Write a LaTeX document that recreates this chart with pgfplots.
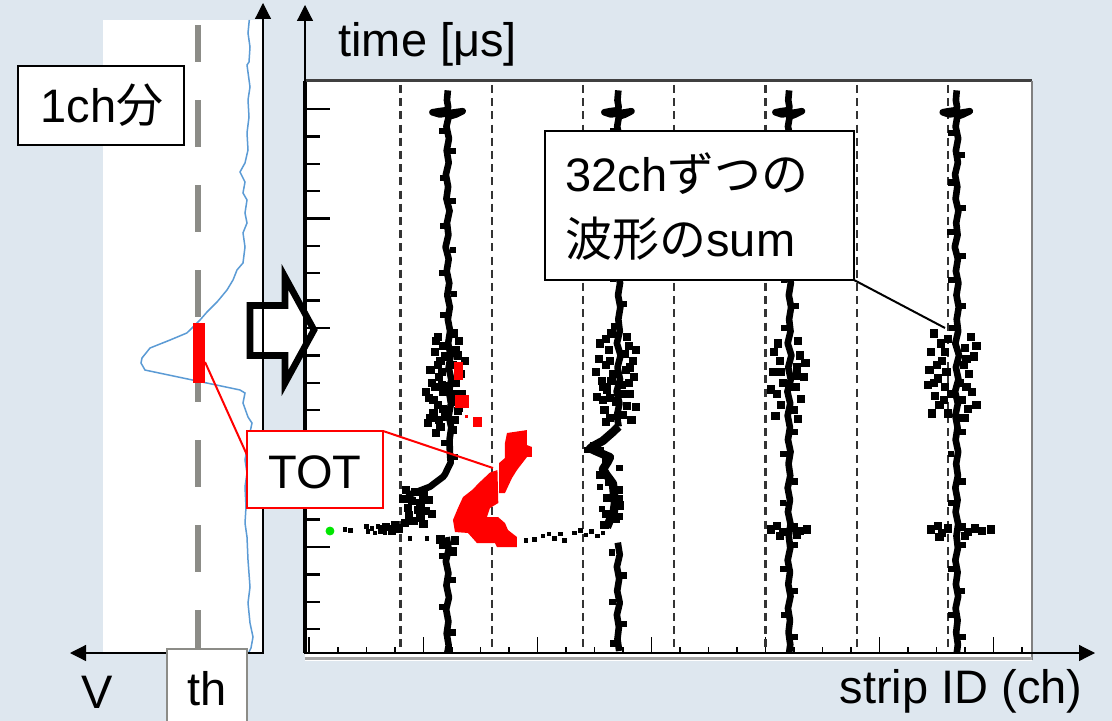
\documentclass[border=0pt]{standalone}
\usepackage{fontspec}
\setmainfont{Liberation Sans}
\newfontfamily\jp{Noto Sans CJK JP}
\usepackage{pgfplots}
\pgfplotsset{compat=1.18}
\usetikzlibrary{arrows.meta}
\definecolor{bg}{RGB}{222,231,239}
\definecolor{wave}{RGB}{91,155,213}
\definecolor{thgray}{RGB}{140,140,135}
\definecolor{bright}{RGB}{0,230,0}
\newcommand\fs{\fontsize{23.5pt}{28pt}\selectfont}
\pgfplotsset{
  trace/.style={black, line width=3.3pt, line join=round},
  grp/.style={black!80, line width=1.1pt, dash pattern=on 4pt off 2.6pt},
  fringe/.style={only marks, mark=square*, mark size=1.8pt, black},
  bump/.style={only marks, mark=square*, mark size=1.3pt, black},
}
\begin{document}
\begin{tikzpicture}
\useasboundingbox (0pt,0pt) rectangle (556pt,-360.5pt);
\begin{scope}[x=0.5pt,y=-0.5pt]
\fill[bg] (0,0) rectangle (1112,721);
\fill[white] (103,20) rectangle (262,652);
\fill[white] (305,81) rectangle (1032,661);
\end{scope}

% ---------- left panel: one channel waveform ----------
\begin{axis}[at={(51.5pt,-326pt)}, anchor=south west, scale only axis,
  width=80pt, height=316pt, x dir=reverse,
  xmin=-0.13, xmax=1.47, ymin=0.0411, ymax=5.8128, hide axis]
\addplot[thgray, line width=3pt, dash pattern=on 23.5pt off 19pt, dash phase=5pt]
  coordinates {(0.52,5.767)(0.52,0.059)};
\addplot[wave, line width=0.75pt] coordinates {
(0.007,5.813)(0.02,5.694)(0.00,5.566)(0.01,5.429)(0.03,5.402)(0.00,5.201)(0.02,5.082)
(0.01,4.927)(0.03,4.781)(0.02,4.626)(0.05,4.507)(0.10,4.425)(0.05,4.333)(0.07,4.233)
(0.03,4.169)(0.05,4.050)(0.03,3.959)(0.07,3.868)(0.05,3.740)(0.07,3.594)(0.13,3.530)
(0.17,3.438)(0.23,3.347)(0.33,3.237)(0.43,3.146)(0.50,3.073)(0.63,2.955)(0.80,2.890)
(1.00,2.817)(1.08,2.726)(1.09,2.680)(1.05,2.616)(0.10,2.434)(0.05,2.406)(0.07,2.315)
(0.02,2.187)(-0.02,2.132)(0.01,2.005)(0.05,1.795)(0.03,1.676)(0.05,1.548)(0.04,1.365)
(0.05,1.219)(0.03,1.091)(0.02,0.882)(0.00,0.635)(0.02,0.489)(0.00,0.306)(-0.03,0.178)
(-0.01,0.078)(0.01,0.041)};
\addplot[fill=red, draw=none] coordinates {(0.45,2.498)(0.57,2.498)(0.57,3.046)(0.45,3.046)} -- cycle;
\end{axis}

% block arrow
\begin{scope}[x=0.5pt,y=-0.5pt]
\draw[line width=3.3pt, fill=white, miter limit=10] (250,305.5) -- (285,305.5) -- (285,277) -- (314,330) -- (285,383) -- (285,355.5) -- (250,355.5) -- cycle;
\end{scope}

% ---------- right panel: strip ID vs time ----------
\begin{axis}[at={(152.5pt,-326.5pt)}, anchor=south west, scale only axis,
  width=363.5pt, height=286pt,
  xmin=-1.5, xmax=253.5, ymin=0.032, ymax=5.2557,
  clip marker paths=true,
  axis x line*=bottom, axis y line=none, x axis line style={draw=none},
  xtick={0,40,...,240},
  minor xtick={10,20,30,50,60,70,90,100,110,130,140,150,170,180,190,210,220,230,250},
  xticklabels={}, tick align=inside,
  major tick length=8pt, minor tick length=3pt,
  tick style={black, line width=0.8pt}]
% group boundaries every 32 ch
\addplot[grp] coordinates {(32,5.22)(32,0.03)};
\addplot[grp] coordinates {(64,5.22)(64,0.03)};
\addplot[grp] coordinates {(96,5.22)(96,0.03)};
\addplot[grp] coordinates {(128,5.22)(128,0.03)};
\addplot[grp] coordinates {(160,5.22)(160,0.03)};
\addplot[grp] coordinates {(192,5.22)(192,0.03)};
\addplot[grp] coordinates {(224,5.22)(224,0.03)};
% trace 1
\addplot[trace] coordinates {
(48.6,5.17)(48.3,5.08)(48.7,5.02)(48.4,4.99)(45.5,4.98)(43.2,4.97)(45.8,4.95)(48.2,4.96)
(51,4.97)(53.8,4.98)(51.5,4.95)(48.9,4.93)(48.1,4.84)(49.0,4.73)(48.2,4.62)(48.9,4.51)
(47.9,4.40)(48.7,4.29)(48.1,4.18)(49.2,4.07)(48.3,3.96)(48.8,3.85)(47.8,3.74)(48.9,3.63)
(48.2,3.52)(49.1,3.41)(48.4,3.30)(49.3,3.19)(48.6,3.08)(49.4,2.97)(48.7,2.86)(49.6,2.75)
(48.9,2.64)(49.8,2.53)(49.0,2.42)(49.7,2.31)(48.9,2.20)(49.8,2.09)(49.2,1.98)(49.3,1.87)
(49.6,1.77)(47.5,1.66)(46.9,1.64)(42.3,1.55)(36.3,1.49)(34,1.47)};
\addplot[trace] coordinates {
(48.2,1.09)(48.9,0.98)(47.9,0.87)(48.8,0.76)(48.1,0.65)(49.0,0.54)(48.0,0.43)(48.8,0.32)
(48.2,0.21)(48.9,0.10)(48.4,0.03)};
% trace 2
\addplot[trace] coordinates {
(108.4,5.17)(108.1,5.08)(108.5,5.02)(108.3,4.99)(105.5,4.98)(103.5,4.97)(105.8,4.95)
(108.2,4.96)(110.8,4.97)(113,4.98)(110.8,4.95)(108.6,4.93)(108.0,4.84)(108.9,4.73)
(108.1,4.62)(108.8,4.51)(107.8,4.40)(108.6,4.29)(108.0,4.18)(109.0,4.07)(108.2,3.96)
(108.7,3.85)(107.7,3.74)(108.8,3.63)(108.1,3.52)(109.0,3.41)(108.3,3.30)(109.1,3.19)
(108.4,3.08)(108.9,2.97)(107.9,2.86)(109.2,2.75)(108.1,2.64)(109.0,2.53)(107.8,2.42)
(108.8,2.31)(107.9,2.20)(108.5,2.10)};
\addplot[black, line width=4.2pt, line join=round] coordinates {
(108.5,2.10)(106.5,2.05)(103,1.97)(99.5,1.92)(98.5,1.90)
(101,1.87)(105.5,1.82)(104.5,1.77)(103,1.71)(104.5,1.65)(106.5,1.58)(106.8,1.50)
(107.2,1.40)(106.8,1.32)(105.5,1.25)(104.4,1.18)};
\addplot[trace] coordinates {
(108.2,1.04)(108.9,0.93)(107.9,0.82)(108.7,0.71)(108.0,0.60)(108.9,0.49)(107.9,0.38)
(108.6,0.27)(108.1,0.16)(108.7,0.05)};
% trace 3
\addplot[trace] coordinates {
(168.3,5.17)(168.0,5.08)(168.4,5.02)(168.2,4.99)(165.5,4.98)(163.5,4.97)(165.8,4.95)
(168.1,4.96)(170.7,4.97)(172.8,4.98)(170.5,4.95)(168.5,4.93)(167.9,4.84)(168.8,4.73)
(168.0,4.62)(168.7,4.51)(167.7,4.40)(168.5,4.29)(167.9,4.18)(168.9,4.07)(168.1,3.96)
(168.6,3.85)(167.6,3.74)(168.7,3.63)(168.0,3.52)(168.9,3.41)(168.2,3.30)(169.0,3.19)
(168.3,3.08)(168.8,2.97)(167.8,2.86)(169.1,2.75)(168.0,2.64)(168.9,2.53)(167.7,2.42)
(168.7,2.31)(167.8,2.20)(168.6,2.09)(167.9,1.98)(168.8,1.87)(168.1,1.76)(168.7,1.65)
(167.8,1.54)(168.6,1.43)(167.9,1.32)(168.8,1.21)(168.2,1.10)(168.7,0.99)(167.8,0.88)
(168.6,0.77)(168.0,0.66)(168.8,0.55)(167.9,0.44)(168.6,0.33)(168.1,0.22)(168.7,0.11)(168.3,0.03)};
% trace 4
\addplot[trace] coordinates {
(227.1,5.17)(226.8,5.08)(227.2,5.02)(227.0,4.99)(224.2,4.98)(222.2,4.97)(224.5,4.95)
(226.9,4.96)(229.5,4.97)(231.7,4.98)(229.3,4.95)(227.3,4.93)(226.7,4.84)(227.6,4.73)
(226.8,4.62)(227.5,4.51)(226.5,4.40)(227.3,4.29)(226.7,4.18)(227.7,4.07)(226.9,3.96)
(227.4,3.85)(226.4,3.74)(227.5,3.63)(226.8,3.52)(227.7,3.41)(227.0,3.30)(227.8,3.19)
(227.1,3.08)(227.6,2.97)(226.6,2.86)(227.9,2.75)(226.8,2.64)(227.7,2.53)(226.5,2.42)
(227.5,2.31)(226.6,2.20)(227.4,2.09)(226.7,1.98)(227.6,1.87)(226.9,1.76)(227.5,1.65)
(226.6,1.54)(227.4,1.43)(226.7,1.32)(227.6,1.21)(227.0,1.10)(227.5,0.99)(226.6,0.88)
(227.4,0.77)(226.8,0.66)(227.6,0.55)(226.7,0.44)(227.4,0.33)(226.9,0.22)(227.5,0.11)(227.1,0.03)};
% small bumps along the traces
\addplot[bump] coordinates {
(46.6,4.80)(50.4,4.62)(46.8,4.37)(50.5,4.16)(46.9,3.93)(50.3,3.71)(46.6,3.50)(50.6,3.31)
(47.0,3.12)(50.8,2.95)(47.2,1.95)(51.2,1.82)(46.5,0.92)(50.5,0.70)(46.6,0.45)(50.4,0.22)
(106.4,4.80)(110.3,4.60)(106.5,4.35)(110.4,4.12)(106.3,3.90)(110.5,3.68)(106.6,3.45)
(110.4,3.22)(106.8,3.02)(101.5,1.95)(97.5,1.89)(108.8,1.72)(102.0,1.55)(109.0,1.45)
(102.6,1.35)(109.0,1.28)(106.2,0.95)(110.3,0.74)(106.3,0.50)(110.4,0.30)(106.5,0.12)
(166.2,4.78)(170.2,4.58)(166.3,4.33)(170.4,4.10)(166.1,3.88)(170.3,3.66)(166.4,3.44)
(170.5,3.20)(166.5,3.00)(170.4,2.05)(166.3,1.85)(170.3,1.60)(166.2,1.40)(170.4,1.02)
(166.3,0.80)(170.2,0.60)(166.4,0.38)(170.3,0.18)
(225.0,4.78)(229.0,4.58)(225.1,4.33)(229.2,4.10)(224.9,3.88)(229.1,3.66)(225.2,3.44)
(229.3,3.20)(225.3,3.00)(229.2,2.05)(225.1,1.85)(229.1,1.60)(225.0,1.40)(229.2,1.02)
(225.1,0.80)(229.0,0.60)(225.2,0.38)(229.1,0.18)};
% noisy clouds of the traces
\addplot[fringe] coordinates {
(45,2.92)(52.5,2.88)(44,2.78)(52,2.75)(46,2.70)(50.5,2.66)(42.5,2.62)(53,2.58)(45.5,2.55)
(51.5,2.50)(44,2.46)(47,2.42)(53.5,2.40)(42,2.36)(50,2.33)(45,2.30)(52.5,2.27)(43.5,2.22)
(47.5,2.19)(51,2.16)(41.5,2.13)(46,2.10)(50.5,2.07)(44.5,2.04)(52,2.24)(46.5,2.60)(49,2.47)
(54.5,2.70)(43,2.50)(41,2.42)(54,2.32)(47,2.84)(42.5,2.18)(51.5,2.80)(46.5,2.48)(45,2.66)
(43.5,2.34)(51.5,2.40)(47,2.26)(45.5,2.16)(52.5,2.60)(44.5,2.88)(47.5,2.74)(50.8,2.95)
(34,1.52)(37,1.50)(40,1.48)(33,1.44)(36,1.42)(39,1.40)(42,1.43)(34.5,1.36)(38,1.34)(41,1.33)
(35,1.29)(39,1.27)(43,1.30)(36.5,1.24)(40,1.21)(33.5,1.22)(30,1.20)(27,1.18)(25.5,1.16)
(29,1.15)(31.5,1.17)(46,1.07)(51,1.06)(47,1.02)(50.5,0.96)
(102,2.86)(112,2.84)(105,2.80)(110.5,2.76)(101.5,2.72)(113.5,2.70)(104,2.66)(111,2.62)
(106.5,2.58)(114,2.55)(102.5,2.52)(109.5,2.48)(104.5,2.44)(112.5,2.40)(101,2.37)(107.5,2.33)
(111.5,2.29)(103.5,2.25)(110,2.21)(105.5,2.18)(113,2.16)(100,1.92)(102,1.88)(104,1.78)
(102,1.66)(105,1.60)(108.5,1.52)(104.5,1.45)(108.8,1.38)(104,1.30)(107.5,1.26)(103.5,1.20)
(114.5,2.80)(100.5,2.60)(112,2.50)(103,2.34)(114.5,2.28)(106,2.95)(104,2.90)(111.5,2.92)
(105.5,2.70)(112.5,2.64)(103,2.46)(105.5,2.36)(110.5,2.40)(104,2.14)(106,2.52)
(163,2.78)(172,2.75)(165,2.70)(171,2.64)(162.5,2.60)(173.5,2.55)(166,2.50)(170.5,2.46)
(164,2.40)(172.5,2.35)(165.5,2.30)(170,2.25)(163.5,2.20)(171.5,2.17)(174,2.68)(162,2.44)
(165.5,2.60)(171,2.56)(164.5,2.86)(171.5,2.88)
(162,1.16)(164,1.19)(166,1.14)(170,1.18)(172,1.15)(174.5,1.16)(165,1.10)(171,1.11)
(219,2.95)(232,2.92)(221.5,2.86)(230,2.82)(218,2.78)(233,2.74)(222,2.70)(229.5,2.66)
(217.5,2.62)(231.5,2.58)(220.5,2.54)(228,2.50)(223,2.46)(232.5,2.42)(219.5,2.38)(229,2.34)
(221,2.30)(231,2.26)(218.5,2.22)(227.5,2.18)(223.5,2.60)(225,2.40)(234,2.84)(217,2.48)
(234,2.30)(223,2.78)(224,2.90)(230.5,2.72)(220,2.66)(230.5,2.46)(222.5,2.34)(224,2.22)
(230,2.18)(219,2.50)
(218,1.16)(220.5,1.19)(222,1.13)(224,1.17)(229,1.18)(231,1.14)(233.5,1.17)(236,1.15)
(239,1.16)(221,1.09)(230,1.10)};
% horizontal row of hits
\addplot[only marks, mark=square*, mark size=0.9pt, black] coordinates {
(12.5,1.16)(14.5,1.15)(20,1.19)(22,1.17)(24,1.19)(26,1.16)(28,1.18)(20.5,1.14)(23,1.13)
(26.5,1.13)(35.3,1.08)(41.3,1.08)(76,1.06)(79,1.07)(82,1.10)(84,1.12)(86,1.08)(88,1.12)
(89.5,1.06)(93,1.13)(95,1.15)(97,1.11)(99,1.14)(101,1.10)(103,1.13)};
% TOT hits (red)
\addplot[fill=red, draw=none] coordinates {(50.8,2.525)(54.0,2.525)(54.0,2.69)(50.8,2.69)} -- cycle;
\addplot[fill=red, draw=none] coordinates {(51.1,2.27)(56.0,2.27)(56.0,2.39)(51.1,2.39)} -- cycle;
\addplot[fill=red, draw=none] coordinates {(54.6,2.178)(55.7,2.178)(55.7,2.205)(54.6,2.205)} -- cycle;
\addplot[fill=red, draw=none] coordinates {(57.4,2.096)(60.6,2.096)(60.6,2.187)(57.4,2.187)} -- cycle;
\addplot[fill=red, draw=none] coordinates {
(69.34,2.041)(76.36,2.068)(76.36,1.931)(78.11,1.913)(78.11,1.822)(76.36,1.822)(72.85,1.703)
(71.10,1.630)(68.64,1.493)(66.6,1.493)(66.6,1.767)(68.64,1.813)(68.64,1.950)} -- cycle;
\addplot[fill=red, draw=none] coordinates {
(66.0,1.703)(66.3,1.402)(63.38,1.356)(62.33,1.274)(66.19,1.274)(68.64,1.219)(69.70,1.155)
(72.85,1.091)(72.85,1.000)(65.84,1.000)(65.14,1.036)(58.82,1.036)(55.66,1.128)(51.10,1.137)
(50.40,1.247)(52.15,1.356)(53.91,1.456)(57.07,1.520)(59.87,1.594)(63.38,1.680)} -- cycle;
\addplot[only marks, mark=*, mark size=2pt, bright] coordinates {(7.26,1.146)};
\end{axis}

\begin{axis}[at={(152.5pt,-326.5pt)}, anchor=south west, scale only axis,
  width=363.5pt, height=286pt,
  xmin=-1.5, xmax=253.5, ymin=0.032, ymax=5.2557,
  axis y line*=left, axis x line=none, y axis line style={-, black, line width=1.6pt},
  ytick={1,2,3,4,5},
  minor ytick={0.25,0.5,0.75,1.25,1.5,1.75,2.25,2.5,2.75,3.25,3.5,3.75,4.25,4.5,4.75},
  yticklabels={}, tick align=inside,
  major tick length=12.5pt, minor tick length=7.5pt,
  tick style={black, line width=1.2pt}]
\addplot[draw=none] coordinates {(0,1)};
\end{axis}

\begin{scope}[x=0.5pt,y=-0.5pt]
% frame edges
\draw[black!75, line width=1.5pt] (305,81) -- (1032,81);
\draw[gray, line width=0.6pt] (1032,81) -- (1032,660);
\draw[gray!70, line width=1.5pt] (305,658) -- (1032,658);
% axis arrows
\draw[line width=0.6pt, {Triangle[width=8pt,length=8pt]}-{Triangle[width=8pt,length=8pt]}] (263,3) -- (263,653) -- (70,653);
\draw[line width=0.6pt, {Triangle[width=8pt,length=8pt]}-{Triangle[width=8pt,length=8pt]}] (305,5) -- (305,653) -- (1095,653);
% labels
\node[anchor=base west, inner sep=0] at (338,57) {\fs time [μs]};
\node[anchor=base east, inner sep=0] at (1083,703) {\fs strip ID (ch)};
\node[anchor=base, inner sep=0] at (97,708) {\fs V};
\draw[thgray, line width=1pt, fill=white] (167,649) rectangle (247,740);
\node[anchor=base, inner sep=0] at (207,705) {\fs th};
% 1ch box
\draw[black, line width=1pt, fill=white] (18,66) rectangle (184,145);
\node[anchor=base west, inner sep=0] at (40,123) {\fs 1ch{\jp 分}};
% TOT callout
\draw[red, line width=1pt] (205,362) -- (247,455);
\draw[red, line width=1pt] (383,431) -- (493,468);
\draw[red, line width=1pt, fill=white] (247,431) rectangle (383,508);
\node[anchor=base, inner sep=0] at (315,488) {\fs TOT};
% sum callout
\draw[black, line width=1pt] (854,280) -- (945,328);
\draw[black, line width=1pt, fill=white] (545,131) rectangle (854,280);
\node[anchor=base west, inner sep=0] at (565,192) {\fs 32ch{\jp ずつの}};
\node[anchor=base west, inner sep=0] at (565,257) {\fs {\jp 波形の}sum};
\end{scope}
\end{tikzpicture}
\end{document}
